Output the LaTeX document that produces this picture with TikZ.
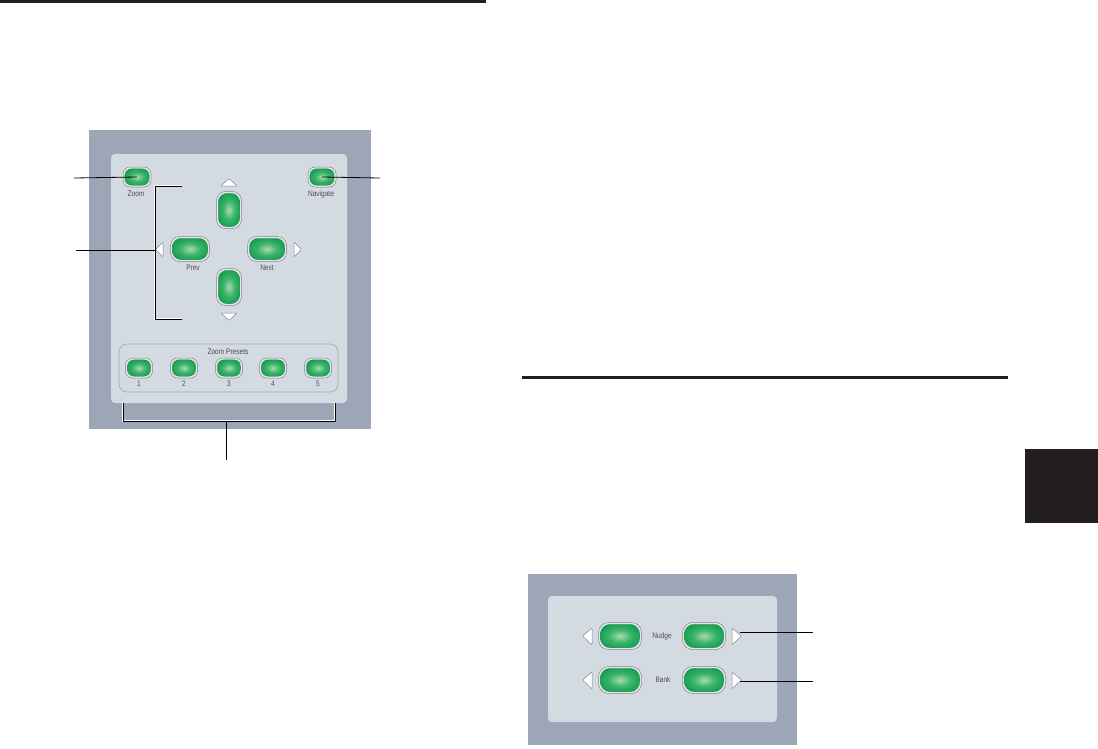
\documentclass[tikz,border=0pt]{standalone}
\usepackage{fontspec}
\setmainfont{Liberation Sans}
\definecolor{rulecol}{HTML}{231F20}
\definecolor{outergray}{HTML}{9CA6B6}
\definecolor{innergray}{HTML}{D4DAE2}
\definecolor{gcenter}{HTML}{A8DAB2}
\definecolor{gmid}{HTML}{3CB46A}
\definecolor{gouter}{HTML}{0C9C4A}
\definecolor{gedge}{HTML}{00823A}
\definecolor{ringgray}{HTML}{7E848C}
\definecolor{ringfill}{HTML}{E4E8EC}
\definecolor{labgray}{HTML}{4A4E54}
\pgfdeclareradialshading{btnshade}{\pgfpoint{0bp}{0bp}}{color(0bp)=(gcenter); color(14bp)=(gmid); color(30bp)=(gouter); color(46bp)=(gedge); color(50bp)=(gedge)}
\tikzset{
  outerpanel/.style={fill=outergray, draw=none},
  innerpanel/.style={fill=innergray, draw=none, rounded corners=4pt},
  btnring/.style={draw=ringgray, line width=0.5pt, fill=ringfill, inner sep=0pt, rounded corners=#1},
  btncore/.style={draw=ringgray!50!gedge, line width=0.3pt, shading=btnshade, inner sep=0pt, rounded corners=#1},
  lab/.style={font=\fontsize{8}{9}\selectfont, text=labgray, inner sep=0pt, xscale=0.82},
  arrowtri/.style={fill=white, draw=ringgray, line width=0.5pt, rounded corners=0.8pt},
  leader/.style={draw=black, line width=0.8pt},
  bracketline/.style={draw=black, line width=0.8pt},
  whitebracket/.style={draw=white, line width=2.2pt},
  grouprect/.style={draw=ringgray!60!innergray, line width=0.6pt, rounded corners=8pt},
}
\newcommand{\mkbtn}[6]{%
  % #1 name, #2 x, #3 y, #4 w, #5 h, #6 radius
  \node[btnring=#6pt, minimum width=#4pt, minimum height=#5pt] (#1) at (#2,#3) {};
  \pgfmathsetmacro{\iw}{#4-3.5}\pgfmathsetmacro{\ih}{#5-3.5}
  \node[btncore=#6pt, minimum width=\iw pt, minimum height=\ih pt] (#1c) at (#2,#3) {};
}
\begin{document}
\begin{tikzpicture}[x=1pt,y=-1pt]
\useasboundingbox (0,0) rectangle (1098,748);
% rules and tab
\fill[rulecol] (0,0) rectangle (486,3);
\fill[rulecol] (522,376) rectangle (1008,379);
\fill[rulecol] (1025,449) rectangle (1098,523);

% ---------------- panel 1
\path[outerpanel] (89,130) rectangle (371,429);
\path[innerpanel] (111,154) rectangle (347,403);

\mkbtn{zoom}{137}{177}{28}{20}{7}
\mkbtn{nav}{322}{177}{28}{20}{7}
\node[lab] (zoomlab) at (136,194) {Zoom};
\node[lab] (navlab) at (321,194) {Navigate};

\mkbtn{up}{229}{210}{25}{37}{9}
\mkbtn{down}{229}{287}{25}{37}{9}
\mkbtn{prev}{190}{249}{39}{25}{9}
\mkbtn{next}{267}{249}{39}{25}{9}
\node[lab] (prevlab) at (193,268) {Prev};
\node[lab] (nextlab) at (267,268) {Next};

\path[arrowtri] (221,186) -- (229,178.5) -- (237,186) -- cycle;
\path[arrowtri] (221,313) -- (229,320.5) -- (237,313) -- cycle;
\path[arrowtri] (163,242) -- (155.5,249.5) -- (163,257) -- cycle;
\path[arrowtri] (294,242) -- (301.5,249.5) -- (294,257) -- cycle;

% zoom presets group
\path[grouprect] (119,344) rectangle (338,392);
\node[lab] (zplab) at (228,352) {Zoom Presets};
\foreach \i/\x in {1/139,2/184,3/229,4/273,5/318}{
  \mkbtn{zp\i}{\x}{368}{27}{20}{7}
  \node[lab] (zpn\i) at (\x,384) {\i};
}

% brackets and leaders panel 1
\coordinate (bt) at (155,186);
\coordinate (bb) at (155,319);
\coordinate (bm) at (155,250);
\path[whitebracket] (182,186) -- (bt) -- (bb) -- (182,319);
\path[bracketline] (182,186) -- (bt) -- (bb) -- (182,319);

\coordinate (zl) at (74,178);
\coordinate (pl) at (76,250);
\coordinate (nr) at (380,178);
\path[leader] (zl) -- (zoom.center);
\path[leader] (pl) -- (bm);
\path[leader] (nav.center) -- (nr);

\coordinate (bl) at (123,403);
\coordinate (br) at (335,403);
\coordinate (bc) at (226,421);
\coordinate (bd) at (226,460);
\path[whitebracket] (bl) -- (123,421) -- (335,421) -- (br);
\path[bracketline] (bl) -- (123,421) -- (335,421) -- (br);
\path[leader] (bc) -- (bd);

% ---------------- panel 2
\path[outerpanel] (528,574) rectangle (797,745);
\path[innerpanel] (548,596) rectangle (777,722);

\mkbtn{nl}{620}{636}{43}{27}{10}
\mkbtn{nr2}{704}{636}{43}{27}{10}
\mkbtn{bl2}{620}{680}{43}{27}{10}
\mkbtn{br2}{704}{680}{43}{27}{10}
\node[lab] (nudgelab) at (662,636) {Nudge};
\node[lab] (banklab) at (663,680) {Bank};

\path[arrowtri] (592,628) -- (582.5,636) -- (592,645) -- cycle;
\path[arrowtri] (592,672) -- (582.5,680) -- (592,689) -- cycle;
\path[arrowtri] (732,628) -- (741.5,636) -- (732,645) -- cycle;
\path[arrowtri] (732,672) -- (741.5,680) -- (732,689) -- cycle;

\coordinate (na) at (740,632);
\coordinate (nb) at (813,632);
\coordinate (ba) at (740,681);
\coordinate (bb2) at (813,681);
\path[leader] (na) -- (nb);
\path[leader] (ba) -- (bb2);
\end{tikzpicture}
\end{document}
